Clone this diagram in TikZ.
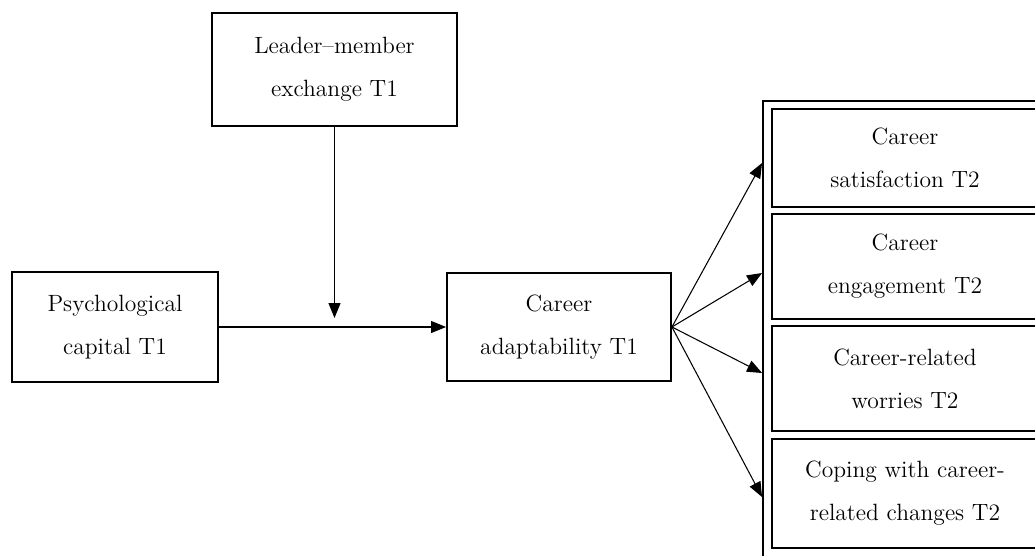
\documentclass[tikz,border=0pt]{standalone}
\usetikzlibrary{arrows.meta}
\begin{document}
\begin{tikzpicture}[x=0.02cm, y=-0.02cm,
    box/.style={draw, line width=1.1pt, align=center, inner sep=0pt,
      font=\fontsize{13.4}{24.5}\selectfont},
    link/.style={line width=0.6pt, -{Triangle[length=0.3cm, width=0.24cm]}}]
  \useasboundingbox (0,0) rectangle (1035,555);

  % Predictors and mediator
  \node[box, minimum width=4.9cm, minimum height=2.26cm] (lmx) at (334.5,69.5) {Leader--member\\exchange T1};
  \node[box, minimum width=4.12cm, minimum height=2.2cm] (psycap) at (115,327) {Psychological\\capital T1};
  \node[box, minimum width=4.48cm, minimum height=2.16cm] (adapt) at (559,327) {Career\\adaptability T1};

  % Outcome block
  \node[draw, line width=1.1pt, minimum width=5.68cm, minimum height=9.18cm] (frame) at (905,330.5) {};
  \node[box, minimum width=5.32cm, minimum height=1.96cm] (sat) at (905,158) {Career\\satisfaction T2};
  \node[box, minimum width=5.32cm, minimum height=2.1cm] (eng) at (905,266.5) {Career\\engagement T2};
  \node[box, minimum width=5.32cm, minimum height=2.1cm] (wor) at (905,378.5) {Career-related\\worries T2};
  \node[box, minimum width=5.32cm, minimum height=2.18cm] (cop) at (905,493.5) {Coping with career-\\related changes T2};

  % Paths
  \coordinate (mod) at (lmx.south |- 0,318);
  \draw[link] (psycap.east |- adapt.west) -- (adapt.west);
  \draw[link] (lmx.south) -- (mod);
  \draw[link] (adapt.east) -- (frame.west |- 0,163);
  \draw[link] (adapt.east) -- (frame.west |- 0,273);
  \draw[link] (adapt.east) -- (frame.west |- 0,373);
  \draw[link] (adapt.east) -- (frame.west |- 0,497);
\end{tikzpicture}
\end{document}
